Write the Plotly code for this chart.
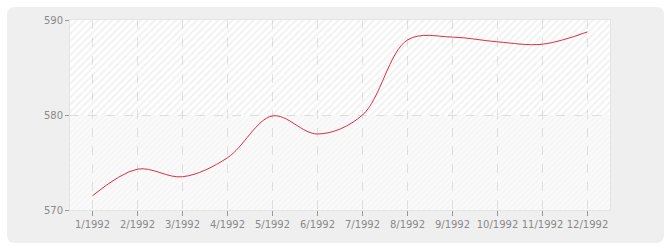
import plotly.graph_objects as go

months = ["1/1992", "2/1992", "3/1992", "4/1992", "5/1992", "6/1992",
          "7/1992", "8/1992", "9/1992", "10/1992", "11/1992", "12/1992"]
values = [571.5, 574.3, 573.5, 575.5, 579.9, 578.0,
          580.0, 587.9, 588.2, 587.7, 587.45, 588.75]
y_ticks = [570, 580, 590]

W, H = 670, 250
ML, MR, MT, MB = 70, 60, 20, 40
PW, PH = W - ML - MR, H - MT - MB

idx = list(range(len(months)))
x_lo, x_hi = -0.5, len(months) - 0.5


def px_x(p):
    return (p - ML) / PW


def px_y(p):
    return (H - MB - p) / PH


def rounded_rect(x0, y0, x1, y1, r):
    X, Y = px_x, px_y
    return (f"M {X(x0 + r)},{Y(y0)} L {X(x1 - r)},{Y(y0)} "
            f"Q {X(x1)},{Y(y0)} {X(x1)},{Y(y0 + r)} "
            f"L {X(x1)},{Y(y1 - r)} Q {X(x1)},{Y(y1)} {X(x1 - r)},{Y(y1)} "
            f"L {X(x0 + r)},{Y(y1)} Q {X(x0)},{Y(y1)} {X(x0)},{Y(y1 - r)} "
            f"L {X(x0)},{Y(y0 + r)} Q {X(x0)},{Y(y0)} {X(x0 + r)},{Y(y0)} Z")


fig = go.Figure()

# hatched background bands between y ticks (translucent so gridlines show)
band_styles = [("rgba(0,0,0,0.05)", "rgba(0,0,0,0.02)", 4, 0.3),
               ("rgba(0,0,0,0.11)", "rgba(0,0,0,0)", 5, 0.35)]
for (b0, b1), (fg, bg, sz, sol) in zip(zip(y_ticks[:-1], y_ticks[1:]), band_styles):
    fig.add_trace(go.Scatter(
        x=[x_lo, x_hi, x_hi, x_lo, x_lo], y=[b0, b0, b1, b1, b0],
        mode="lines", line=dict(width=0),
        fill="toself", fillcolor=bg,
        fillpattern=dict(shape="/", fgcolor=fg, bgcolor=bg, size=sz, solidity=sol),
        hoverinfo="skip", showlegend=False))

fig.add_trace(go.Scatter(
    x=idx, y=values, mode="lines",
    line=dict(color="#dc2d45", width=1, shape="spline", smoothing=1.0),
    showlegend=False))

fig.add_shape(type="path", xref="paper", yref="paper",
              path=rounded_rect(7, 7, 664, 243, 8),
              fillcolor="#efefef", line=dict(width=0), layer="below")
fig.add_shape(type="rect", xref="paper", yref="paper", x0=0, x1=1, y0=0, y1=1,
              fillcolor="white", line=dict(width=0), layer="below")

font = dict(family="DejaVu Sans", size=10, color="#8a8a8a")
fig.update_layout(
    width=W, height=H,
    margin=dict(l=ML, r=MR, t=MT, b=MB, autoexpand=False),
    paper_bgcolor="white", plot_bgcolor="white",
    xaxis=dict(range=[x_lo, x_hi], tickvals=idx, ticktext=months, tickfont=font,
               tickangle=0,
               showgrid=True, gridcolor="#e4e4e4", griddash="dash", gridwidth=1,
               ticks="outside", ticklen=5, tickcolor="#999999",
               showline=True, linecolor="#e4e4e4", mirror=True,
               zeroline=False, fixedrange=True),
    yaxis=dict(range=[570, 590], tickvals=y_ticks, tickfont=font,
               showgrid=True, gridcolor="#e4e4e4", griddash="dash", gridwidth=1,
               ticks="outside", ticklen=4, tickcolor="#999999",
               showline=True, linecolor="#e4e4e4", mirror=True,
               zeroline=False, fixedrange=True),
)

fig.write_html("out.html")
